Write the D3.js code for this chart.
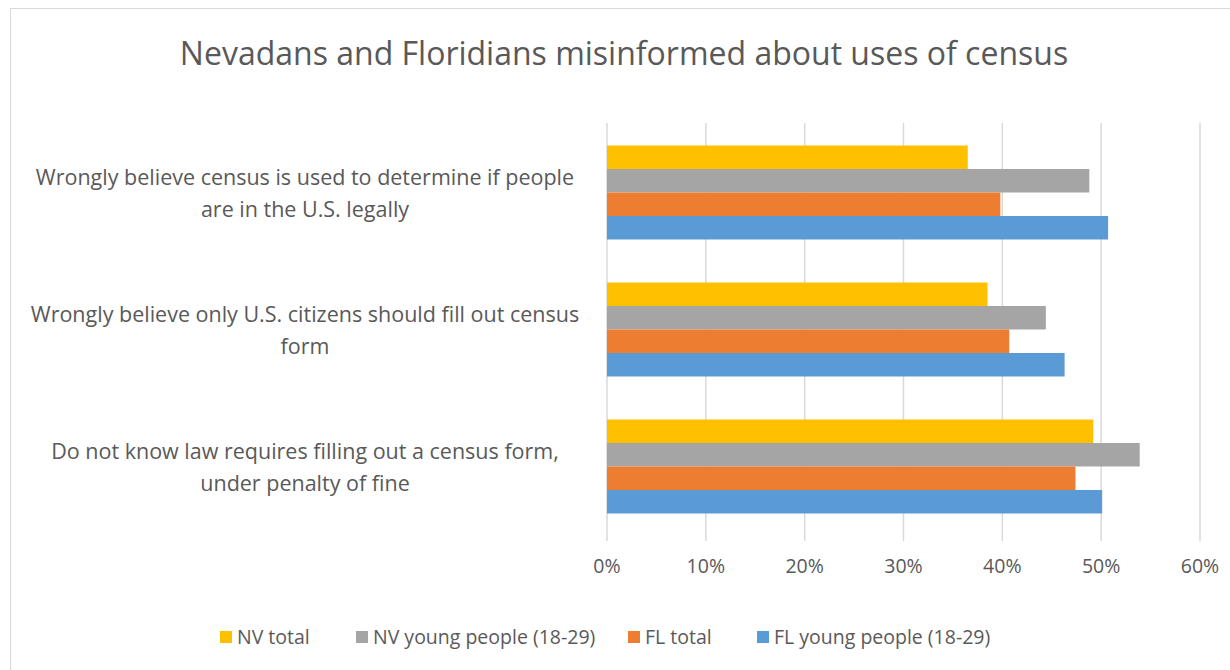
<!DOCTYPE html>
<html>
<head>
<meta charset="utf-8">
<script src="https://cdn.jsdelivr.net/npm/d3@7"></script>
<style>
  body { margin: 0; background: #fff; }
  text { font-family: "Open Sans", Lato, sans-serif; fill: #595959; }
</style>
</head>
<body>
<div id="chartDiv"></div>
<script>
// data
const categories = [
    ["Wrongly believe census is used to determine if people", "are in the U.S. legally"],
    ["Wrongly believe only U.S. citizens should fill out census", "form"],
    ["Do not know law requires filling out a census form,", "under penalty of fine"]
];
const seriesNames = ["NV total", "NV young people (18-29)", "FL total", "FL young people (18-29)"];
const seriesColors = ["#ffc000", "#a5a5a5", "#ed7d31", "#5b9bd5"];
const nvTotal = [0.365, 0.385, 0.492];
const nvYoung = [0.488, 0.444, 0.539];
const flTotal = [0.398, 0.407, 0.474];
const flYoung = [0.507, 0.463, 0.501];
const tickValues = [0, 0.1, 0.2, 0.3, 0.4, 0.5, 0.6];

const width = 1230, height = 670;
const plot = { left: 607, right: 1200, top: 123, bottom: 541 };

const svg = d3.select('#chartDiv').append('svg')
    .attr('width', width)
    .attr('height', height);

// chart frame
svg.append('rect')
    .attr('x', 10.5).attr('y', 8.5)
    .attr('width', 1240).attr('height', 700)
    .attr('fill', '#fff')
    .attr('stroke', '#d9d9d9');

svg.append('text')
    .attr('x', 624).attr('y', 65)
    .attr('text-anchor', 'middle')
    .style('font-size', '32px')
    .text('Nevadans and Floridians misinformed about uses of census');

const x = d3.scaleLinear().domain([0, 0.6]).range([plot.left, plot.right]);
const y = d3.scaleBand().domain(d3.range(categories.length))
    .range([124, 535]).paddingInner(0.314).paddingOuter(0.157);
const ySeries = d3.scaleBand().domain(d3.range(seriesNames.length))
    .range([0, y.bandwidth()]);

// gridlines
svg.append('g').selectAll('line')
    .data(tickValues)
    .enter().append('line')
    .attr('x1', d => x(d)).attr('x2', d => x(d))
    .attr('y1', plot.top).attr('y2', plot.bottom)
    .attr('stroke', '#d9d9d9')
    .attr('stroke-width', 1.5);

// tick labels
svg.append('g').selectAll('text')
    .data(tickValues)
    .enter().append('text')
    .attr('x', d => x(d)).attr('y', 573)
    .attr('text-anchor', 'middle')
    .style('font-size', '19.5px')
    .text(d3.format('.0%'));

const values = [nvTotal, nvYoung, flTotal, flYoung];
const bars = [];
values.forEach((vals, s) => vals.forEach((v, c) => bars.push({ s, c, v })));

svg.append('g').selectAll('rect')
    .data(bars)
    .enter().append('rect')
    .attr('x', x(0))
    .attr('y', d => y(d.c) + ySeries(d.s))
    .attr('width', d => x(d.v) - x(0))
    .attr('height', ySeries.bandwidth())
    .attr('fill', d => seriesColors[d.s]);

// category labels
const catG = svg.append('g').selectAll('text')
    .data(categories)
    .enter().append('text')
    .attr('text-anchor', 'middle')
    .style('font-size', '21.5px');
catG.selectAll('tspan')
    .data((d, i) => d.map((line, j) => ({ line, j, i })))
    .enter().append('tspan')
    .attr('x', 305)
    .attr('y', d => y(d.i) + y.bandwidth() / 2 - 8 + d.j * 32)
    .text(d => d.line);

// legend
const legendX = [220, 356, 628, 757];
const legend = svg.append('g').selectAll('g')
    .data(seriesNames)
    .enter().append('g')
    .attr('transform', (d, i) => `translate(${legendX[i]},637)`);
legend.append('rect')
    .attr('x', 0).attr('y', -6)
    .attr('width', 12).attr('height', 12)
    .attr('fill', (d, i) => seriesColors[i]);
legend.append('text')
    .attr('x', 17).attr('y', 7)
    .style('font-size', '19.5px')
    .text(d => d);
</script>
</body>
</html>
